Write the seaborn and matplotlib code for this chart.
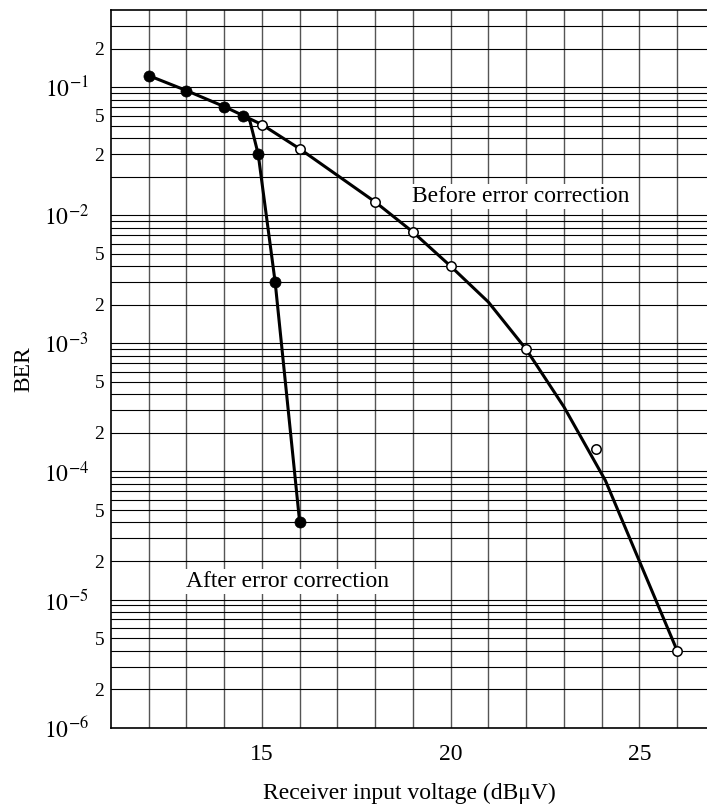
# ber_curve.py
import numpy as np
import pandas as pd
import seaborn as sns
import matplotlib.pyplot as plt

# 1. Values
# line through the "before" markers (shared start, then the open circles)
before_line_x = [12, 13, 14, 14.5, 15, 16, 18, 19, 20, 21, 22, 23, 24.1, 26]
before_line_y = [0.123, 0.094, 0.0705, 0.060, 0.051, 0.033, 0.0127, 0.0074,
                 0.0040, 2.1e-3, 9.0e-4, 3.2e-4, 8.5e-5, 4.0e-6]

# branch of the "after" curve that drops away
after_line_x = [14.5, 14.68, 14.9, 15.35, 16]
after_line_y = [0.060, 0.0545, 0.030, 0.0030, 4.0e-5]

# filled markers (after error correction)
after_x = [12, 13, 14, 14.5, 14.9, 15.35, 16]
after_y = [0.123, 0.094, 0.0705, 0.060, 0.030, 0.0030, 4.0e-5]

# open markers (before error correction)
before_x = [15, 16, 18, 19, 20, 22, 23.85, 26]
before_y = [0.051, 0.033, 0.0127, 0.0074, 0.0040, 9.0e-4, 1.5e-4, 4.0e-6]

x_ticks = list(range(12, 27))
x_labels = {15: "15", 20: "20", 25: "25"}
decades = [-6, -5, -4, -3, -2, -1]
# small labels beside the grid (as printed on the chart)
minor_labels = {(2, -1): "2", (6, -2): "5", (3, -2): "2", (5, -3): "5", (2, -3): "2",
                (5, -4): "5", (2, -4): "2", (5, -5): "5", (2, -5): "2",
                (5, -6): "5", (2, -6): "2"}

# 2. Style
sns.set_style("ticks")
plt.rcParams["font.family"] = ["Liberation Serif", "DejaVu Serif"]
plt.rcParams["mathtext.fontset"] = "stix"
plt.rcParams["text.color"] = "black"
plt.rcParams["axes.labelcolor"] = "black"
plt.rcParams["xtick.color"] = "black"
plt.rcParams["ytick.color"] = "black"

fig = plt.figure(figsize=(7.07, 8.05), dpi=100)
ax = fig.add_axes([111 / 707, 77.3 / 805, 596 / 707, 717.7 / 805])
ax.set_yscale("log")

# 3. Curves and markers
df_before = pd.DataFrame({"x": before_line_x, "y": before_line_y})
df_after = pd.DataFrame({"x": after_line_x, "y": after_line_y})
sns.lineplot(data=df_before, x="x", y="y", sort=False, estimator=None,
             color="black", lw=2.2, ax=ax, zorder=3)
sns.lineplot(data=df_after, x="x", y="y", sort=False, estimator=None,
             color="black", lw=2.2, ax=ax, zorder=3)
sns.scatterplot(x=after_x, y=after_y, s=64, color="black", edgecolor="black",
                linewidth=0.5, ax=ax, zorder=4)
sns.scatterplot(x=before_x, y=before_y, s=46, color="white", edgecolor="black",
                linewidth=1.1, ax=ax, zorder=4)

# 4. Axes limits, ticks and grid
ax.set_xlim(11, 11 + 596 / 37.74)
ax.set_ylim(1e-6, 4e-1)

ax.set_xticks(x_ticks)
ax.set_xticklabels([x_labels.get(t, "") for t in x_ticks], fontsize=17)

ax.set_yticks([10.0 ** d for d in decades])
ax.set_yticklabels([r"$10^{%d}$" % d for d in decades], fontsize=17)
minor_pos, minor_txt = [], []
for d in decades:
    for k in range(2, 10):
        if d == -1 and k > 3:
            continue
        minor_pos.append(k * 10.0 ** d)
        minor_txt.append(minor_labels.get((k, d), ""))
ax.set_yticks(minor_pos, minor=True)
ax.set_yticklabels(minor_txt, minor=True, fontsize=14)
ax.xaxis.set_minor_locator(plt.NullLocator())

ax.tick_params(axis="both", which="both", length=0)
ax.tick_params(axis="x", which="major", pad=12)
ax.tick_params(axis="y", which="major", pad=16)
ax.tick_params(axis="y", which="minor", pad=5)

ax.grid(True, which="major", axis="x", color="#555555", lw=1.0)
ax.grid(True, which="both", axis="y", color="black", lw=0.8)

for side in ["left", "bottom", "top"]:
    ax.spines[side].set_color("black")
    ax.spines[side].set_linewidth(1.2)
ax.spines["right"].set_visible(False)

# 5. Curve labels
box = dict(facecolor="white", edgecolor="none", pad=1.5)
ax.text(18.98, 0.0127, "Before error correction", fontsize=17,
        va="baseline", ha="left", bbox=box, zorder=2)
ax.text(12.98, 1.26e-5, "After error correction", fontsize=17,
        va="baseline", ha="left", bbox=box, zorder=2)

# 6. Axis titles
ax.set_xlabel("Receiver input voltage (dBμV)", fontsize=17)
ax.set_ylabel("BER", fontsize=17)
ax.xaxis.set_label_coords(0.5, -0.077)
ax.yaxis.set_label_coords(-0.128, 0.5)

plt.savefig("out.png", dpi=100)
plt.close()
